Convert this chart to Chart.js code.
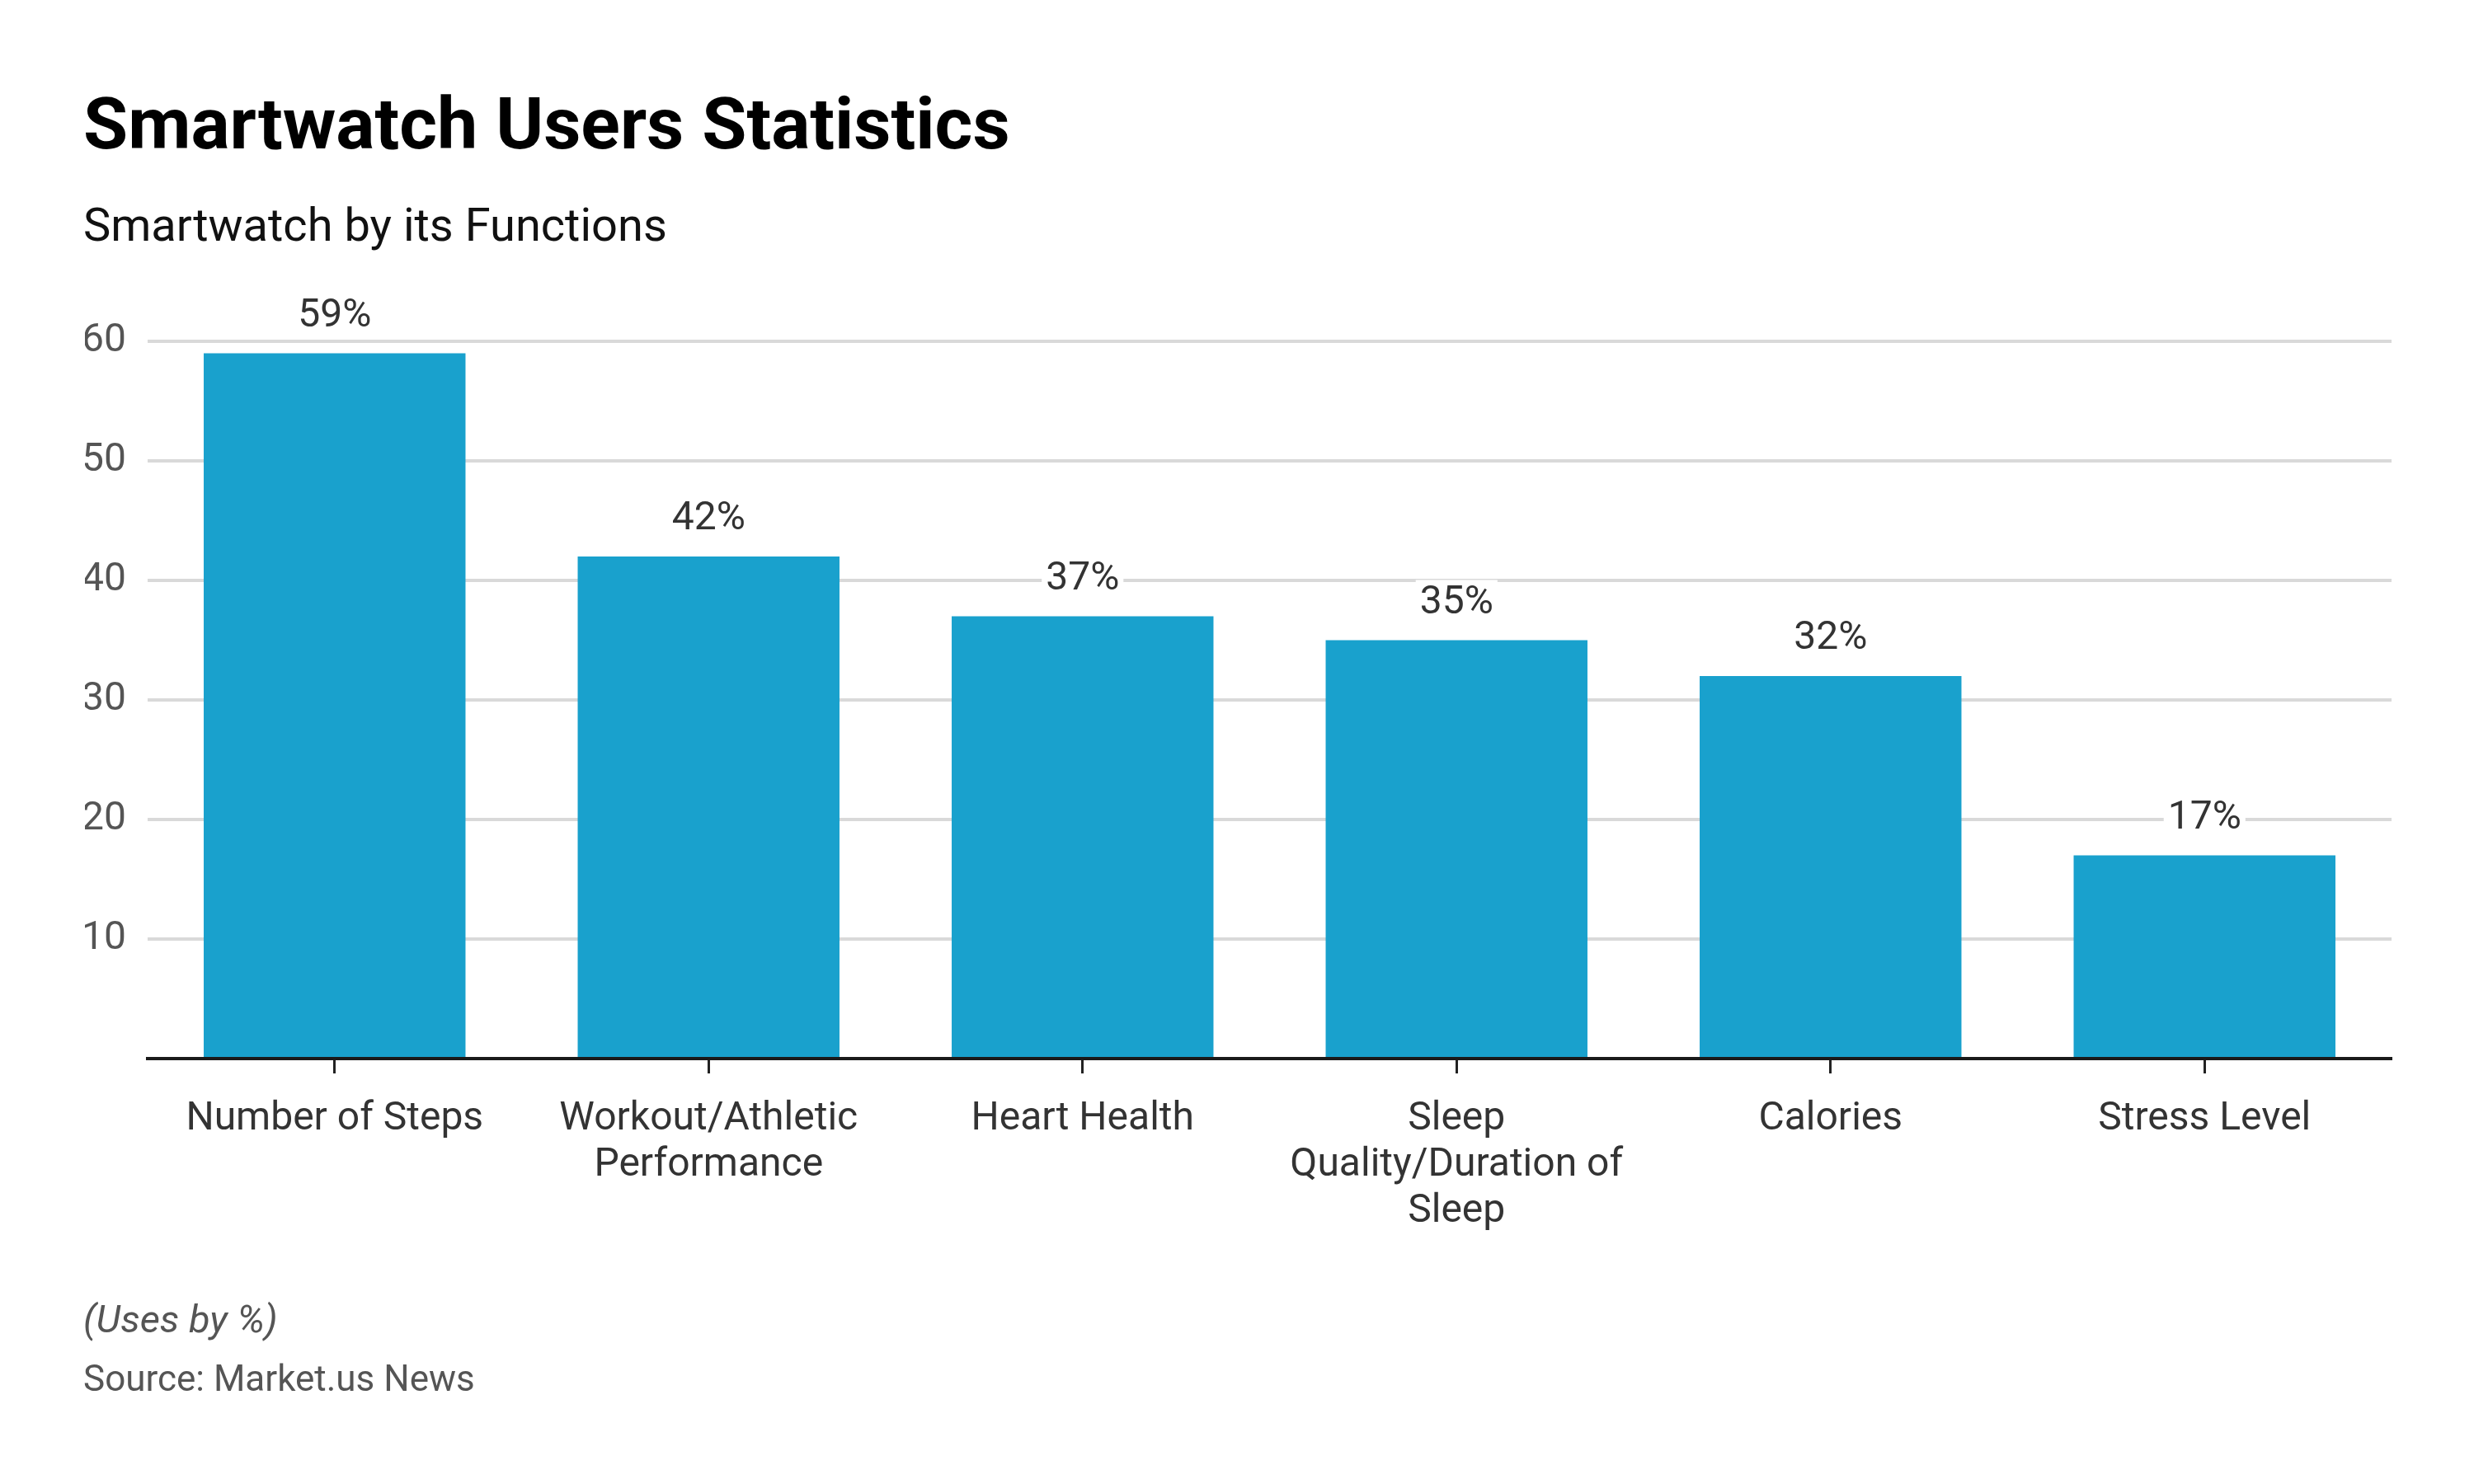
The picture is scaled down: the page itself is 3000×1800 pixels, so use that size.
<!DOCTYPE html>
<html>
<head>
<meta charset="utf-8">
<title>Smartwatch Users Statistics</title>
<script src="https://cdn.jsdelivr.net/npm/chart.js@4.4.1/dist/chart.umd.min.js"></script>
<style>
    html, body { margin: 0; padding: 0; background: #fff; }
    #chart { display: block; }
</style>
</head>
<body>
<canvas id="chart" width="3000" height="1800"></canvas>
<script>
// chart data
const categories = [
    'Number of Steps',
    ['Workout/Athletic', 'Performance'],
    'Heart Health',
    ['Sleep', 'Quality/Duration of', 'Sleep'],
    'Calories',
    'Stress Level'
];
const usesPercent = [59, 42, 37, 35, 32, 17];
const yTicks = [10, 20, 30, 40, 50, 60];

const titleText = 'Smartwatch Users Statistics';
const subtitleText = 'Smartwatch by its Functions';
const unitNote = '(Uses by %)';
const sourceNote = 'Source: Market.us News';

const FONT = 'Roboto, "Noto Sans", sans-serif';

// value labels above each bar, with a white box so the grid line breaks behind them
const barLabels = {
    id: 'barLabels',
    afterDatasetsDraw(chart) {
        const ctx = chart.ctx;
        const meta = chart.getDatasetMeta(0);
        ctx.save();
        ctx.font = '48px ' + FONT;
        ctx.textAlign = 'center';
        ctx.textBaseline = 'alphabetic';
        meta.data.forEach((bar, i) => {
            const text = usesPercent[i] + '%';
            const y = bar.y - 33;
            const w = ctx.measureText(text).width;
            ctx.fillStyle = '#ffffff';
            ctx.fillRect(bar.x - w / 2 - 5, y - 40, w + 10, 48);
            ctx.fillStyle = '#333333';
            ctx.fillText(text, bar.x, y);
        });
        ctx.restore();
    }
};

// title, subtitle and footer notes
const pageText = {
    id: 'pageText',
    afterDraw(chart) {
        const ctx = chart.ctx;
        ctx.save();
        ctx.textAlign = 'left';
        ctx.textBaseline = 'alphabetic';
        ctx.fillStyle = '#000000';
        ctx.font = 'bold 88px ' + FONT;
        ctx.fillText(titleText, 101, 180);
        ctx.fillStyle = '#111111';
        ctx.font = '56px ' + FONT;
        ctx.fillText(subtitleText, 101, 292);
        ctx.fillStyle = '#555555';
        ctx.font = 'italic 47px ' + FONT;
        ctx.fillText(unitNote, 101, 1616);
        ctx.font = '44px ' + FONT;
        ctx.fillText(sourceNote, 101, 1687);
        ctx.restore();
    }
};

const ctx = document.getElementById('chart').getContext('2d');
new Chart(ctx, {
    type: 'bar',
    data: {
        labels: categories,
        datasets: [{
            label: 'Uses by %',
            data: usesPercent,
            backgroundColor: '#19a1cd',
            borderWidth: 0,
            categoryPercentage: 1.0,
            barPercentage: 0.7
        }]
    },
    options: {
        responsive: false,
        animation: false,
        devicePixelRatio: 1,
        layout: {
            padding: { left: 103, right: 100, top: 414, bottom: 256 }
        },
        plugins: {
            legend: { display: false },
            tooltip: { enabled: false }
        },
        scales: {
            x: {
                afterFit: (scale) => { scale.height = 260; },
                grid: {
                    display: true,
                    offset: false,
                    drawOnChartArea: false,
                    drawTicks: true,
                    tickLength: 18,
                    tickWidth: 3,
                    tickColor: '#222222'
                },
                border: { display: true, color: '#1a1a1a', width: 4 },
                ticks: {
                    color: '#333333',
                    font: { family: FONT, size: 48, lineHeight: 1.17 },
                    padding: 28,
                    maxRotation: 0,
                    autoSkip: false
                }
            },
            y: {
                min: 0,
                max: 60,
                afterFit: (scale) => { scale.width = 76; },
                afterBuildTicks: (scale) => {
                    scale.ticks = [0].concat(yTicks).map(v => ({ value: v }));
                },
                grid: {
                    color: (c) => c.tick && c.tick.value === 0 ? 'rgba(0,0,0,0)' : '#d9d9d9',
                    lineWidth: 4,
                    drawTicks: false
                },
                border: { display: false },
                ticks: {
                    color: '#555555',
                    font: { family: FONT, size: 48 },
                    padding: 26,
                    callback: (value) => value === 0 ? '' : value
                }
            }
        }
    },
    plugins: [barLabels, pageText]
});
</script>
</body>
</html>
